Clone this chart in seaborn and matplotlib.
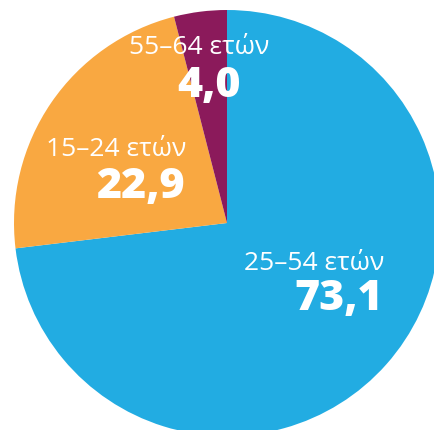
import matplotlib
matplotlib.use("Agg")
import matplotlib.pyplot as plt
import seaborn as sns

# Data
age_groups = ["25–54 ετών", "15–24 ετών", "55–64 ετών"]
shares = [73.1, 22.9, 4.0]
slice_colors = ["#22ace2", "#f9a841", "#8b1a5b"]

# label anchors (pixels, top-left origin) and alignment
label_pos = [(384, 263, "right"), (186, 150, "right"), (199, 48, "center")]
value_pos = [(383, 299, "right"), (185, 187, "right"), (209, 86, "center")]

sns.set_style("white")
plt.rcParams["font.family"] = ["Open Sans", "DejaVu Sans"]

W, H = 434, 430
fig = plt.figure(figsize=(W / 100, H / 100), dpi=100)
ax = fig.add_axes([0, 0, 1, 1])

ax.pie(shares, colors=slice_colors, startangle=90, counterclock=False,
       center=(227, H - 223), radius=213, frame=True,
       wedgeprops=dict(linewidth=0))
ax.set_xlim(0, W)
ax.set_ylim(0, H)
ax.set_aspect("equal")
ax.axis("off")

for name, val, (lx, ly, la), (vx, vy, va) in zip(age_groups, shares, label_pos, value_pos):
    ax.text(lx, H - ly, name, color="white", fontsize=19, ha=la, va="center")
    ax.text(vx, H - vy, f"{val:.1f}".replace(".", ","), color="white",
            fontsize=31, fontweight="heavy", ha=va, va="center")

fig.savefig("out.png", dpi=100)
